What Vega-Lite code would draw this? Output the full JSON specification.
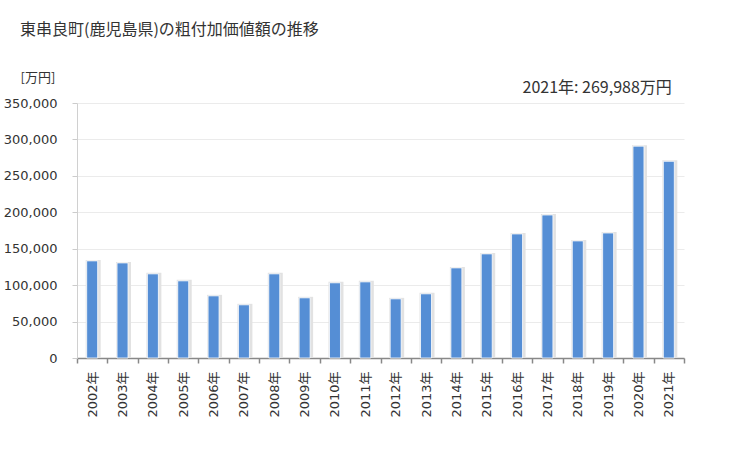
{
  "$schema": "https://vega.github.io/schema/vega-lite/v6.json",
  "width": 607,
  "height": 255,
  "autosize": "none",
  "padding": {"left": 77, "top": 103, "right": 45, "bottom": 92},
  "background": "white",
  "config": {"view": {"stroke": null}},
  "title": {
    "text": "東串良町(鹿児島県)の粗付加価値額の推移",
    "anchor": "start",
    "frame": "group",
    "dx": -57,
    "offset": 33,
    "font": "Noto Sans CJK JP",
    "fontSize": 16,
    "fontWeight": "normal",
    "color": "#333333"
  },
  "data": {
    "values": [
      {"year": "2002年", "value": 133300},
      {"year": "2003年", "value": 130500},
      {"year": "2004年", "value": 115500},
      {"year": "2005年", "value": 105900},
      {"year": "2006年", "value": 85300},
      {"year": "2007年", "value": 73000},
      {"year": "2008年", "value": 115500},
      {"year": "2009年", "value": 82600},
      {"year": "2010年", "value": 103200},
      {"year": "2011年", "value": 104500},
      {"year": "2012年", "value": 81200},
      {"year": "2013年", "value": 88100},
      {"year": "2014年", "value": 123700},
      {"year": "2015年", "value": 142900},
      {"year": "2016年", "value": 170300},
      {"year": "2017年", "value": 196300},
      {"year": "2018年", "value": 160700},
      {"year": "2019年", "value": 171600},
      {"year": "2020年", "value": 290800},
      {"year": "2021年", "value": 269988}
    ]
  },
  "encoding": {
    "x": {
      "field": "year",
      "type": "nominal",
      "sort": null,
      "scale": {"paddingInner": 0, "paddingOuter": 0},
      "axis": {
        "title": null,
        "tickBand": "extent",
        "labelAngle": -90,
        "labelAlign": "right",
        "labelBaseline": "middle",
        "labelPadding": 8,
        "labelFont": "Verdana, DejaVu Sans, Noto Sans CJK JP",
        "labelFontSize": 13,
        "labelColor": "#333333",
        "domainColor": "#888888",
        "domainWidth": 1.5,
        "tickColor": "#888888",
        "tickSize": 5,
        "tickWidth": 1.5,
        "grid": false
      }
    },
    "y": {
      "field": "value",
      "type": "quantitative",
      "scale": {"domain": [0, 350000]},
      "axis": {
        "title": "[万円]",
        "titleAngle": 0,
        "titleX": -57,
        "titleY": -26,
        "titleAlign": "left",
        "titleBaseline": "middle",
        "titleFont": "Noto Sans CJK JP",
        "titleFontSize": 13,
        "titleFontWeight": "normal",
        "titleColor": "#333333",
        "values": [0, 50000, 100000, 150000, 200000, 250000, 300000, 350000],
        "format": ",.0f",
        "labelFont": "Verdana, DejaVu Sans",
        "labelFontSize": 13,
        "labelColor": "#333333",
        "labelPadding": 15,
        "tickSize": 5,
        "tickColor": "#cccccc",
        "domainColor": "#d0d0d0",
        "gridColor": "#ebebeb",
        "gridWidth": 1
      }
    }
  },
  "layer": [
    {
      "mark": {"type": "bar", "size": 15, "color": "#e2e2e2", "xOffset": 1, "yOffset": -1}
    },
    {
      "mark": {"type": "bar", "size": 11, "color": "#558ed5", "stroke": "white", "strokeWidth": 0.8}
    },
    {
      "transform": [
        {"filter": "datum.year == '2021年'"},
        {"calculate": "datum.year + ': ' + format(datum.value, ',') + '万円'", "as": "label"}
      ],
      "mark": {"type": "text", "align": "right", "baseline": "middle", "dx": 3, "font": "Noto Sans CJK JP", "fontSize": 16, "color": "#333333"},
      "encoding": {
        "y": {"value": -15},
        "text": {"field": "label"}
      }
    }
  ]
}
